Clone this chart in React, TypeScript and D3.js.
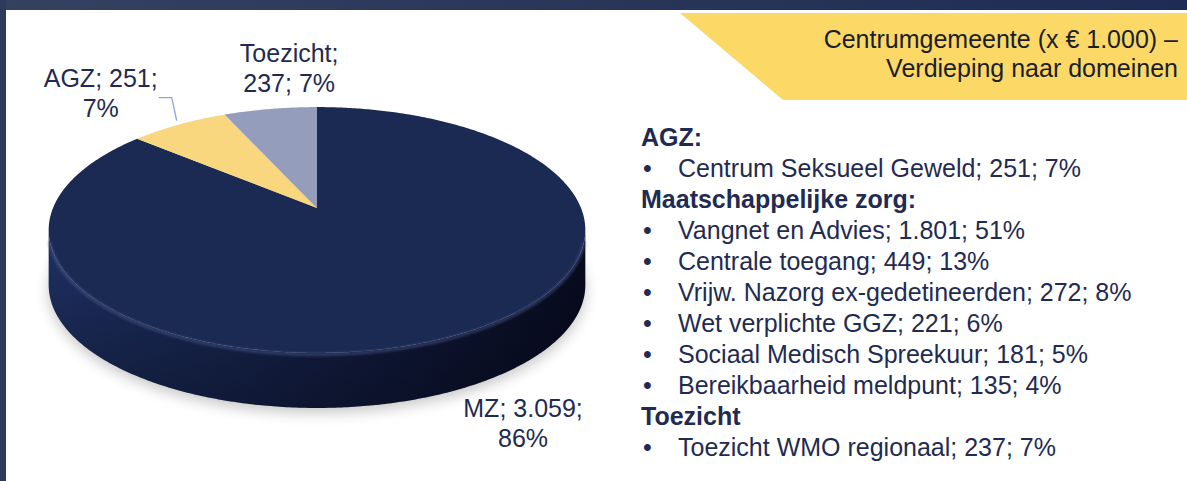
import React from "react";
import * as d3 from "d3";

const categories = ["MZ", "AGZ", "Toezicht"];
const values = [3059, 251, 237];
const sliceColors = ["#1b2a52", "#f9d77e", "#959dbd"];

const titleLines = ["Centrumgemeente (x € 1.000) –", "Verdieping naar domeinen"];

const agzItems = ["Centrum Seksueel Geweld"];
const agzValues = [251];
const mzItems = [
  "Vangnet en Advies",
  "Centrale toegang",
  "Vrijw. Nazorg ex-gedetineerden",
  "Wet verplichte GGZ",
  "Sociaal Medisch Spreekuur",
  "Bereikbaarheid meldpunt",
];
const mzValues = [1801, 449, 272, 221, 181, 135];
const toezichtItems = ["Toezicht WMO regionaal"];
const toezichtValues = [237];
const groupTitles = ["AGZ:", "Maatschappelijke zorg:", "Toezicht"];

const W = 1187;
const H = 481;
const FONT = "'Liberation Sans', Arial, sans-serif";
const NAVY = "#1f2b52";

const nl = d3.formatLocale({ decimal: ",", thousands: ".", grouping: [3], currency: ["€ ", ""] });
const fmtNum = nl.format(",d");

// perspective projection of the pie disc
const cx = 317, cy = 208, A = 264, B = 119, K = 0.179, DEPTH = 55;
function P(theta: number, h = 0): [number, number] {
  const u = Math.sin(theta);
  const v = -Math.cos(theta);
  const w = 1 - K * v;
  return [cx + (A * u) / w, cy + (B * v) / w + h];
}
function rimPoints(a0: number, a1: number, h = 0): [number, number][] {
  const n = Math.max(2, Math.ceil(Math.abs(a1 - a0) / 0.01));
  const pts: [number, number][] = [];
  for (let i = 0; i <= n; i++) pts.push(P(a0 + ((a1 - a0) * i) / n, h));
  return pts;
}
const line = d3.line();

export default function App() {
  const total = d3.sum(values);
  const pct = (v: number) => Math.round((v / total) * 100) + "%";
  const arcs = d3.pie<number>().sort(null).startAngle(0).endAngle(2 * Math.PI)(values);

  const thR = Math.acos(-K);
  const thL = 2 * Math.PI - thR;
  const sidePts = [...rimPoints(thR, thL, 0), ...rimPoints(thL, thR, DEPTH)];
  const sidePath = line(sidePts) + "Z";
  const shadowPath = line(rimPoints(0, 2 * Math.PI, DEPTH + 5)) + "Z";
  const frontRim = line(rimPoints(thR + 0.08, thL - 0.08, 1.5));

  // labels
  const mid = (a: any) => (a.startAngle + a.endAngle) / 2;
  const labelSpecs = [
    { i: 0, anchor: P(mid(arcs[0]), DEPTH), dx: 74, dy: 55, lines: [`${categories[0]}; ${fmtNum(values[0])};`, pct(values[0])] },
    { i: 1, anchor: P(mid(arcs[1])), dx: -78, dy: -8, lines: [`${categories[1]}; ${fmtNum(values[1])};`, pct(values[1])] },
    { i: 2, anchor: P(mid(arcs[2])), dx: 19, dy: -17, lines: [`${categories[2]};`, `${fmtNum(values[2])}; ${pct(values[2])}`] },
  ];
  const agzAnchor = P(mid(arcs[1]));

  // right list
  const rows: { kind: "h" | "b"; text: string }[] = [];
  rows.push({ kind: "h", text: groupTitles[0] });
  agzItems.forEach((t, i) => rows.push({ kind: "b", text: `${t}; ${agzValues[i]}; ${pct(agzValues[i])}` }));
  rows.push({ kind: "h", text: groupTitles[1] });
  mzItems.forEach((t, i) => rows.push({ kind: "b", text: `${t}; ${fmtNum(mzValues[i])}; ${pct(mzValues[i])}` }));
  rows.push({ kind: "h", text: groupTitles[2] });
  toezichtItems.forEach((t, i) => rows.push({ kind: "b", text: `${t}; ${toezichtValues[i]}; ${pct(toezichtValues[i])}` }));
  const rowY = d3.scaleLinear().domain([0, rows.length - 1]).range([146, 456]);

  return (
    <svg width={W} height={H} style={{ position: "absolute", left: 0, top: 0, background: "#fff" }} fontFamily={FONT}>
      <defs>
        <linearGradient id="topbar" x1="0" x2="1" y1="0" y2="0">
          <stop offset="0" stopColor="#34415f" />
          <stop offset="1" stopColor="#1f2b52" />
        </linearGradient>
        <linearGradient id="side" gradientUnits="userSpaceOnUse" x1={cx - A} x2={cx + A} y1="0" y2="0">
          <stop offset="0" stopColor="#1c2d5c" />
          <stop offset="0.35" stopColor="#16234c" />
          <stop offset="0.7" stopColor="#0e1636" />
          <stop offset="1" stopColor="#070b1e" />
        </linearGradient>
        <linearGradient id="sideV" gradientUnits="userSpaceOnUse" x1="0" x2="0" y1={cy + 60} y2={cy + 200}>
          <stop offset="0" stopColor="#000" stopOpacity="0" />
          <stop offset="1" stopColor="#000" stopOpacity="0.3" />
        </linearGradient>
        <filter id="blur" x="-20%" y="-20%" width="140%" height="140%">
          <feGaussianBlur stdDeviation="7" />
        </filter>
        <filter id="blur2" x="-10%" y="-10%" width="120%" height="120%">
          <feGaussianBlur stdDeviation="1.6" />
        </filter>
      </defs>

      <rect x={0} y={0} width={W} height={H} fill="#fff" />
      <rect x={0} y={0} width={W} height={10} fill="url(#topbar)" />
      <rect x={0} y={0} width={6} height={H} fill="#2e3a5c" />

      {/* header */}
      <polygon points={`680,13 ${W},13 ${W},100 783,100`} fill="#fcd966" />
      {titleLines.map((t, i) => (
        <text key={i} x={1178} y={48 + i * 29} textAnchor="end" fontSize={25} fill="#1a1d2b">
          {t}
        </text>
      ))}

      {/* pie */}
      <path d={shadowPath} fill="#000" opacity={0.22} filter="url(#blur)" />
      <path d={sidePath} fill="url(#side)" />
      <path d={sidePath} fill="url(#sideV)" />
      {arcs.map((a, i) => {
        const pts = [[cx, cy] as [number, number], ...rimPoints(a.startAngle, a.endAngle, 0)];
        return <path key={i} d={line(pts) + "Z"} fill={sliceColors[i]} />;
      })}
      <path d={frontRim!} fill="none" stroke="#4f5f90" strokeWidth={2.2} opacity={0.75} filter="url(#blur2)" />

      {/* leader line for AGZ */}
      <polyline
        points={`${agzAnchor[0] - 20},${agzAnchor[1] - 27} ${agzAnchor[0] - 7},${agzAnchor[1] - 27} ${agzAnchor[0] - 2},${agzAnchor[1] - 4}`}
        fill="none"
        stroke="#8fa3d6"
        strokeWidth={1.3}
      />

      {labelSpecs.map((l) => (
        <text key={l.i} textAnchor="middle" fontSize={25} fill={NAVY}>
          {l.lines.map((t, j) => (
            <tspan key={j} x={l.anchor[0] + l.dx} y={l.anchor[1] + l.dy - (l.lines.length - 1 - j) * 30}>
              {t}
            </tspan>
          ))}
        </text>
      ))}

      {/* right list */}
      {rows.map((r, i) =>
        r.kind === "h" ? (
          <text key={i} x={641} y={rowY(i)} fontSize={25} fontWeight="bold" fill={NAVY}>
            {r.text}
          </text>
        ) : (
          <g key={i}>
            <text x={643} y={rowY(i)} fontSize={25} fill={NAVY}>•</text>
            <text x={678} y={rowY(i)} fontSize={25} fill={NAVY}>{r.text}</text>
          </g>
        )
      )}
    </svg>
  );
}
